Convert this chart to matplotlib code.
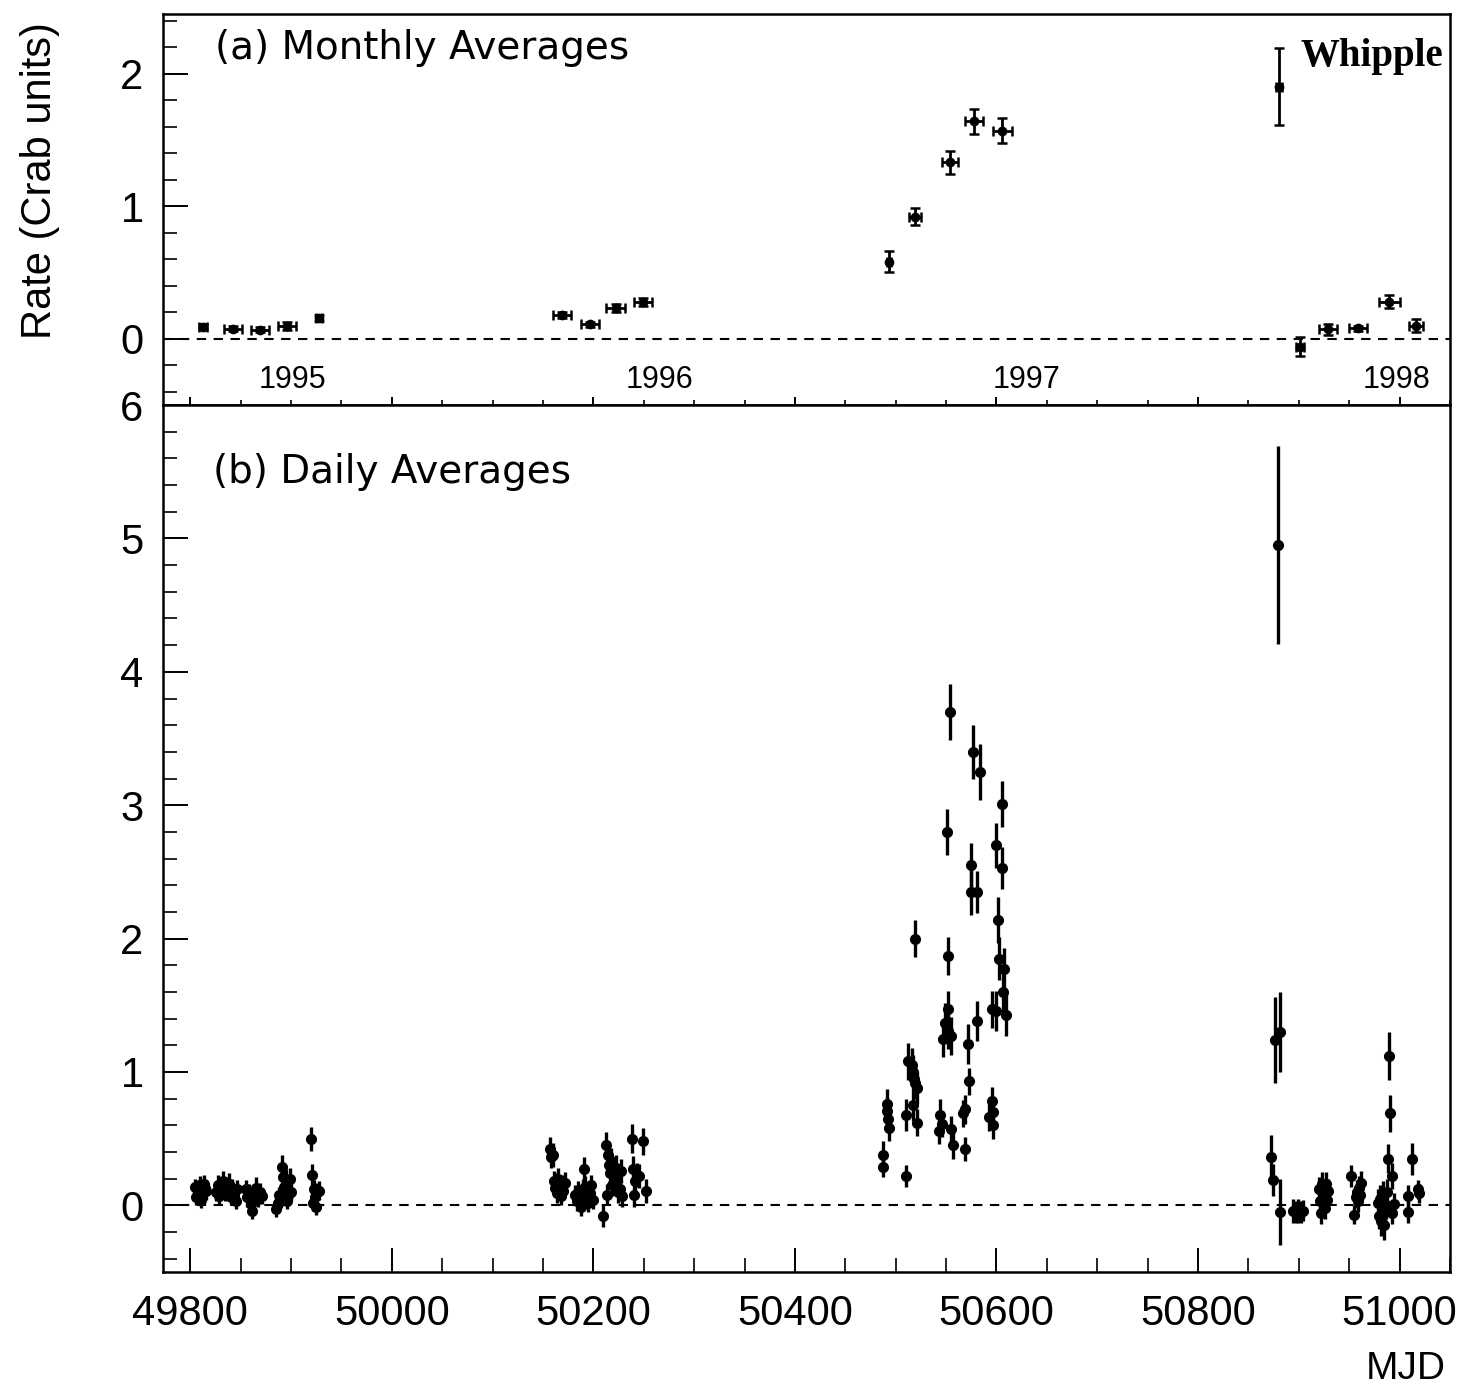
import numpy as np
import matplotlib.pyplot as plt
from matplotlib.ticker import MultipleLocator

# ---- monthly averages (panel a) ----
m_mjd = [49813, 49842, 49869, 49896, 49928, 50169, 50197, 50222, 50249,
         50493, 50519, 50554, 50578, 50606, 50880, 50901, 50929, 50959, 50990, 51016]
m_rate = [0.09, 0.077, 0.068, 0.096, 0.156, 0.18, 0.108, 0.23, 0.276,
          0.58, 0.92, 1.33, 1.64, 1.57, 1.90, -0.06, 0.07, 0.08, 0.28, 0.10]
m_err = [0.02, 0.02, 0.02, 0.03, 0.02, 0.02, 0.02, 0.03, 0.03,
         0.08, 0.065, 0.085, 0.095, 0.095, 0.29, 0.07, 0.04, 0.02, 0.05, 0.05]
m_xerr = [4, 9, 9, 9, 3, 9, 9, 9, 9, 2, 6, 8, 9, 9, 3, 4, 9, 9, 10, 7]

years = ["1995", "1996", "1997", "1998"]
year_mjd = [49901, 50266, 50630, 50997]

# ---- daily averages (panel b) ----
d95_mjd = [49805, 49806, 49807, 49808, 49810, 49811, 49813, 49814, 49815, 49816,
           49826, 49828, 49829, 49831, 49832, 49834, 49835, 49837, 49838, 49840, 49841, 49843, 49845, 49846,
           49855, 49856, 49858, 49860, 49861, 49863, 49865, 49867, 49869, 49871,
           49885, 49887, 49888, 49890, 49891, 49892, 49893, 49895, 49896, 49897, 49899, 49900,
           49920, 49921, 49922, 49923, 49924, 49925, 49926, 49928]
d95_rate = [0.14, 0.06, 0.12, 0.09, 0.15, 0.04, 0.10, 0.16, 0.13, 0.11,
            0.10, 0.15, 0.07, 0.12, 0.18, 0.09, 0.14, 0.11, 0.16, 0.06, 0.13, 0.08, 0.03, 0.12,
            0.12, 0.06, 0.10, 0.01, -0.04, 0.08, 0.13, 0.05, 0.10, 0.07,
            -0.03, 0.02, 0.08, 0.05, 0.29, 0.21, 0.14, 0.19, 0.03, 0.08, 0.20, 0.10,
            0.50, 0.23, 0.02, 0.12, 0.06, -0.01, 0.10, 0.11]
d95_err = [0.06, 0.06, 0.07, 0.06, 0.07, 0.06, 0.06, 0.07, 0.06, 0.07,
           0.07, 0.08, 0.06, 0.07, 0.08, 0.06, 0.07, 0.06, 0.08, 0.06, 0.07, 0.06, 0.06, 0.07,
           0.07, 0.07, 0.06, 0.07, 0.06, 0.07, 0.08, 0.06, 0.07, 0.06,
           0.06, 0.07, 0.06, 0.07, 0.09, 0.08, 0.07, 0.08, 0.06, 0.07, 0.08, 0.07,
           0.09, 0.08, 0.06, 0.07, 0.06, 0.06, 0.07, 0.07]

d96_mjd = [50157, 50158, 50160, 50161, 50162, 50163, 50164, 50165, 50166, 50168, 50169, 50170, 50172,
           50182, 50184, 50185, 50187, 50188, 50190, 50191, 50192, 50194, 50195, 50197, 50198, 50200,
           50210,
           50213, 50214, 50215, 50216, 50217, 50218, 50219, 50220, 50222, 50223, 50224, 50226, 50227, 50228,
           50238, 50239, 50240, 50241, 50243, 50245, 50249, 50252]
d96_rate = [0.42, 0.36, 0.38, 0.18, 0.13, 0.16, 0.09, 0.20, 0.12, 0.07, 0.15, 0.11, 0.17,
            0.08, 0.03, 0.10, 0.05, -0.01, 0.12, 0.27, 0.14, 0.06, 0.02, 0.09, 0.15, 0.04,
            -0.08,
            0.45, 0.08, 0.38, 0.30, 0.24, 0.33, 0.15, 0.22, 0.28, 0.19, 0.10, 0.12, 0.26, 0.07,
            0.50, 0.27, 0.08, 0.18, 0.23, 0.22, 0.48, 0.11]
d96_err = [0.09, 0.08, 0.09, 0.08, 0.07, 0.08, 0.07, 0.08, 0.07, 0.07, 0.08, 0.07, 0.08,
           0.07, 0.07, 0.08, 0.07, 0.07, 0.08, 0.09, 0.08, 0.07, 0.07, 0.08, 0.08, 0.07,
           0.08,
           0.10, 0.08, 0.10, 0.09, 0.09, 0.10, 0.08, 0.09, 0.10, 0.09, 0.08, 0.08, 0.09, 0.08,
           0.11, 0.10, 0.09, 0.09, 0.09, 0.09, 0.10, 0.09]

d97_mjd = [50487, 50487, 50491, 50491, 50492, 50493,
           50510, 50510, 50512, 50516, 50517, 50517, 50518, 50519, 50519, 50521, 50521,
           50543, 50544, 50546, 50547, 50549, 50551, 50552, 50552, 50552, 50554, 50555, 50555, 50557,
           50567, 50569, 50569, 50572, 50573, 50575, 50575, 50577, 50581, 50581, 50584,
           50593, 50596, 50596, 50597, 50597, 50600, 50600, 50602, 50603, 50606, 50606, 50607, 50608, 50609]
d97_rate = [0.38, 0.29, 0.76, 0.71, 0.65, 0.58,
            0.68, 0.22, 1.08, 1.05, 1.00, 0.75, 0.95, 0.92, 2.00, 0.88, 0.62,
            0.56, 0.68, 0.61, 1.25, 1.37, 2.80, 1.87, 1.47, 1.31, 3.70, 1.27, 0.57, 0.45,
            0.69, 0.72, 0.42, 1.21, 0.93, 2.55, 2.35, 3.40, 2.35, 1.38, 3.25,
            0.66, 0.78, 1.47, 0.70, 0.60, 2.70, 1.46, 2.14, 1.85, 3.01, 2.53, 1.60, 1.77, 1.43]
d97_err = [0.10, 0.08, 0.11, 0.10, 0.10, 0.10,
           0.12, 0.08, 0.14, 0.13, 0.13, 0.12, 0.12, 0.12, 0.14, 0.12, 0.10,
           0.10, 0.12, 0.10, 0.14, 0.15, 0.17, 0.14, 0.14, 0.14, 0.21, 0.14, 0.10, 0.10,
           0.10, 0.11, 0.09, 0.15, 0.10, 0.17, 0.17, 0.20, 0.16, 0.15, 0.21,
           0.10, 0.11, 0.14, 0.10, 0.10, 0.17, 0.15, 0.17, 0.16, 0.17, 0.16, 0.16, 0.16, 0.16]

d98_mjd = [50872, 50874, 50876, 50879, 50881, 50881,
           50894, 50897, 50899, 50902, 50904,
           50920, 50921, 50922, 50923, 50924, 50925, 50926, 50927, 50928, 50929,
           50952, 50955, 50957, 50958, 50959, 50960, 50961, 50962,
           50979, 50980, 50981, 50982, 50983, 50984, 50985, 50986, 50987, 50988, 50989, 50990, 50991, 50993, 50993, 50995,
           51008, 51008, 51012, 51018, 51019]
d98_rate = [0.36, 0.19, 1.24, 4.95, 1.30, -0.05,
            -0.04, -0.05, -0.04, -0.05, -0.04,
            0.12, 0.03, -0.06, 0.16, 0.08, 0.10, -0.02, 0.16, 0.04, 0.11,
            0.22, -0.07, 0.06, 0.10, 0.03, 0.13, 0.08, 0.17,
            0.02, -0.08, 0.05, -0.12, -0.03, 0.08, -0.15, -0.05, 0.00, 0.10, 0.35, 1.12, 0.69, 0.22, -0.06, 0.01,
            0.07, -0.05, 0.35, 0.12, 0.09]
d98_err = [0.17, 0.12, 0.32, 0.74, 0.30, 0.25,
           0.09, 0.08, 0.09, 0.08, 0.08,
           0.09, 0.08, 0.08, 0.09, 0.09, 0.09, 0.08, 0.09, 0.08, 0.09,
           0.08, 0.07, 0.08, 0.09, 0.08, 0.09, 0.08, 0.09,
           0.10, 0.10, 0.10, 0.11, 0.10, 0.10, 0.11, 0.10, 0.10, 0.10, 0.11, 0.18, 0.14, 0.10, 0.08, 0.08,
           0.08, 0.08, 0.12, 0.07, 0.07]

d_mjd = d95_mjd + d96_mjd + d97_mjd + d98_mjd
d_rate = d95_rate + d96_rate + d97_rate + d98_rate
d_err = d95_err + d96_err + d97_err + d98_err

plt.rcParams['font.family'] = ['Liberation Sans', 'DejaVu Sans']

fig = plt.figure(figsize=(14.69, 13.91), dpi=100)
ax_top = fig.add_axes([0.111, 0.7088, 0.876, 0.2812])
ax_bot = fig.add_axes([0.111, 0.0855, 0.876, 0.6233])

xmin, xmax = 49773, 51050
dash = (0, (4.5, 3.6))

# (a) monthly
ax_top.errorbar(m_mjd, m_rate, yerr=m_err, xerr=m_xerr, fmt='o', color='black',
                ms=6, elinewidth=2.0, capsize=3.5, capthick=1.8)
ax_top.axhline(0, color='black', lw=1.5, linestyle=dash)
ax_top.set_xlim(xmin, xmax)
ax_top.set_ylim(-0.5, 2.45)
for yr, xm in zip(years, year_mjd):
    ax_top.text(xm, -0.31, yr, fontsize=22, ha='center', va='center')
ax_top.text(0.040, 0.913, "(a) Monthly Averages", transform=ax_top.transAxes,
            fontsize=28, ha='left', va='center', family='DejaVu Sans')
ax_top.text(0.995, 0.89, "Whipple", transform=ax_top.transAxes, fontsize=28,
            fontweight='bold', family='Liberation Serif', ha='right', va='center')

# (b) daily
ax_bot.errorbar(d_mjd, d_rate, yerr=d_err, fmt='o', color='black',
                ms=7, elinewidth=2.4, capsize=0)
ax_bot.axhline(0, color='black', lw=1.5, linestyle=dash)
ax_bot.set_xlim(xmin, xmax)
ax_bot.set_ylim(-0.5, 6.0)
ax_bot.text(0.039, 0.923, "(b) Daily Averages", transform=ax_bot.transAxes,
            fontsize=28, ha='left', va='center', family='DejaVu Sans')

# ticks: inward, left and bottom only
for ax in (ax_top, ax_bot):
    ax.xaxis.set_major_locator(MultipleLocator(200))
    ax.xaxis.set_minor_locator(MultipleLocator(50))
    ax.yaxis.set_major_locator(MultipleLocator(1))
    ax.yaxis.set_minor_locator(MultipleLocator(0.2))
    for sp in ax.spines.values():
        sp.set_linewidth(1.8)
    ax.tick_params(axis='y', which='major', direction='in', length=18, width=1.4,
                   labelsize=30, pad=14)
    ax.tick_params(axis='y', which='minor', direction='in', length=10, width=1.2)

ax_top.tick_params(axis='x', which='major', direction='inout', length=12, width=1.4,
                   labelbottom=False)
ax_top.tick_params(axis='x', which='minor', direction='inout', length=7, width=1.2)
ax_bot.tick_params(axis='x', which='major', direction='in', length=17, width=1.4,
                   labelsize=30, pad=16)
ax_bot.tick_params(axis='x', which='minor', direction='in', length=10, width=1.2)

fig.text(0.027, 0.87, "Rate (Crab units)", rotation=90, fontsize=30,
         ha='center', va='center')
fig.text(0.984, 0.016, "MJD", fontsize=28, ha='right', va='center')

fig.savefig("out.png", dpi=100)
